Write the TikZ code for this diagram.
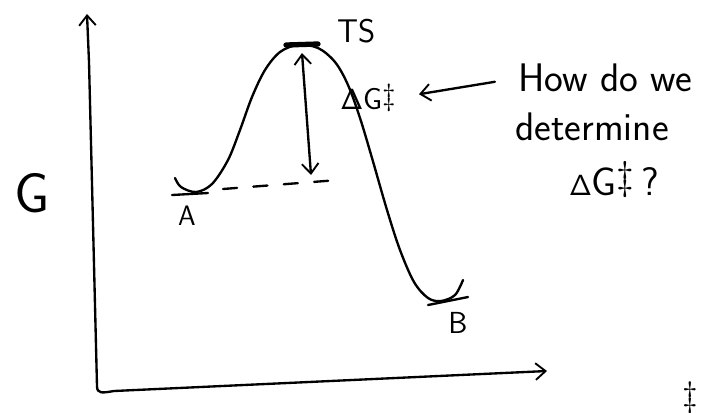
\documentclass[tikz,border=0pt]{standalone}
\usepackage{amsmath,amssymb}
\usepackage{tikz}
\usetikzlibrary{arrows.meta,positioning,calc}

\tikzset{
  hand/.style={line width=2pt,line cap=round,line join=round},
  barb/.style={-{Straight Barb[length=3mm,width=5mm,line width=1.6pt]}},
  note/.style={font=\sffamily\fontsize{34}{40}\selectfont,inner sep=0pt},
  small/.style={font=\sffamily\fontsize{26}{30}\selectfont,inner sep=0pt},
}
\newcommand{\dgdag}{$\mathsf{\Delta}$G\raisebox{0.3ex}{\textdaggerdbl}}

\begin{document}
\begin{tikzpicture}[x=0.03cm,y=-0.03cm]
\useasboundingbox (0,0) rectangle (710,412);
% axes
\coordinate (ytop) at (87,14);
\coordinate (corner) at (97,386);
\coordinate (xend) at (547,371);
\draw[hand,{Straight Barb[length=3mm,width=5mm,line width=1.6pt]}-{Straight Barb[length=3mm,width=5mm,line width=1.6pt]}]
  (ytop) -- (89,62) -- (corner) .. controls (97,394) and (102,393) .. (114,391) -- (xend);
\node[font=\sffamily\fontsize{48}{52}\selectfont,inner sep=0pt] (glab) at (32,193) {G};
% reaction path
\draw[hand] plot[smooth,tension=0.55] coordinates {(175,178) (181,187) (196,192) (212,184) (228,160) (240,130) (252,97) (265,70) (280,52) (298,45) (318,48) (335,62) (348,85) (360,118) (372,158) (387,210) (400,250) (414,282) (428,298) (441,301) (455,295) (463,280)};
\draw[line width=4.5pt,line cap=round] (286,45) -- (318,44);
\draw[hand] (172,195) -- (208,193);
\draw[hand] (428,305) -- (468,297);
\draw[hand,dash pattern=on 12pt off 14pt] (223,189) -- (338,180);
% labels
\node[small,font=\sffamily\fontsize{24}{28}\selectfont] (lA) at (187,216) {A};
\node[small] (lB) at (458,323) {B};
\node[small,font=\sffamily\fontsize{28}{32}\selectfont] (lTS) at (357,31) {TS};
\node[small,font=\sffamily\fontsize{26}{30}\selectfont] (dg) at (368,98) {\dgdag};
% barrier height
\coordinate (top) at (302,53);
\coordinate (base) at (311,175);
\draw[hand,{Straight Barb[length=3mm,width=5mm,line width=1.6pt]}-{Straight Barb[length=3mm,width=5mm,line width=1.6pt]}] (top) -- (base);
% question
\node[note] (q1) at (605,78) {How do we};
\node[note] (q2) at (592,127) {determine};
\node[note] (q3) at (614,180) {\dgdag\,?};
\draw[hand,barb,shorten <=0.7cm,shorten >=0.7cm] (q1.west) -- (dg.east);
\node[note,font=\sffamily\fontsize{30}{34}\selectfont] (dd) at (690,398) {\textdaggerdbl};
\end{tikzpicture}
\end{document}
